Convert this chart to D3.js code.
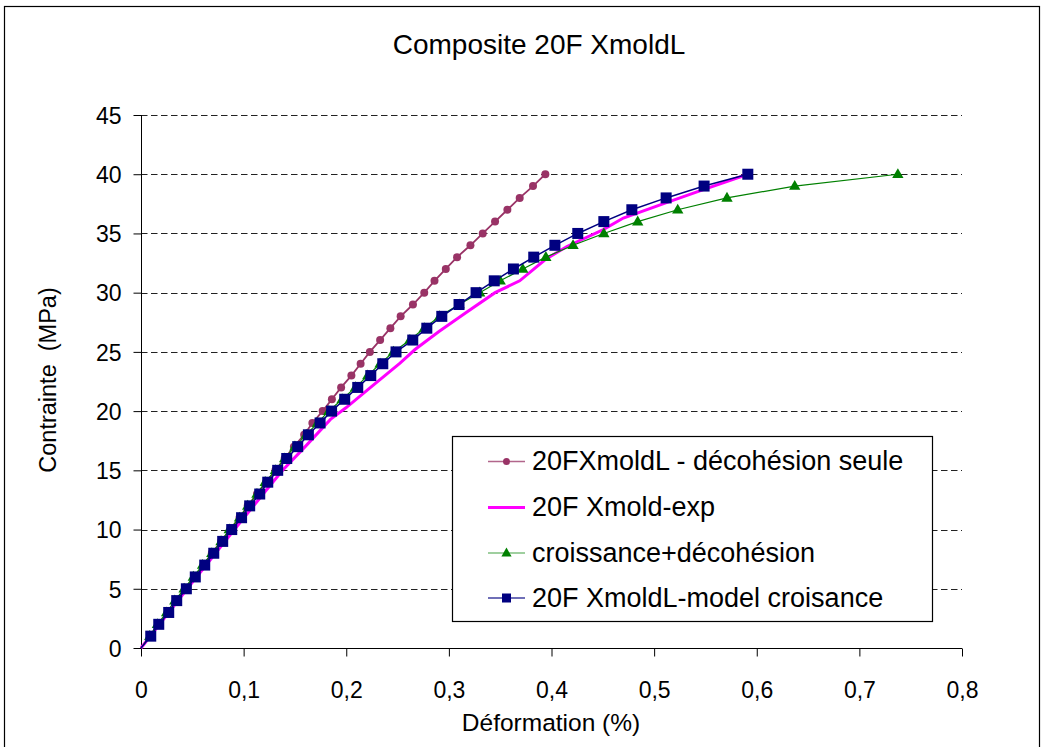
<!DOCTYPE html>
<html>
<head>
<meta charset="utf-8">
<script src="https://cdn.jsdelivr.net/npm/d3@7"></script>
<style>
  html, body { margin: 0; padding: 0; background: #fff; }
  svg { display: block; font-family: "Liberation Sans", Arial, sans-serif; }
</style>
</head>
<body>
<svg id="chart" width="1043" height="747"></svg>
<script>
// Stress levels (MPa) shared by the three model series
const stressLevels = [1,2,3,4,5,6,7,8,9,10,11,12,13,14,15,16,17,18,19,20,
                      21,22,23,24,25,26,27,28,29,30,31,32,33,34,35,36,37,38,39,40];

// 20FXmoldL - décohésion seule : strain (%)
const decohStrain = [0.009,0.017,0.026,0.034,0.043,0.052,0.061,0.069,0.078,0.087,
                     0.096,0.104,0.113,0.122,0.131,0.140,0.149,0.159,0.167,0.177,
                     0.186,0.195,0.205,0.214,0.223,0.233,0.243,0.253,0.265,0.276,
                     0.286,0.297,0.308,0.321,0.333,0.345,0.357,0.369,0.382,0.394];

// croissance+décohésion : strain (%)
const croissStrain = [0.0085,0.016,0.025,0.033,0.042,0.051,0.060,0.069,0.078,0.086,
                      0.096,0.104,0.113,0.121,0.131,0.140,0.150,0.161,0.172,0.183,
                      0.196,0.209,0.221,0.233,0.246,0.262,0.276,0.291,0.310,0.330,
                      0.350,0.372,0.3945,0.421,0.451,0.484,0.523,0.571,0.637,0.7375];

// 20F XmoldL-model croisance : strain (%)
const modelStrain = [0.0095,0.0173,0.027,0.0348,0.0442,0.0529,0.0621,0.0709,0.0796,0.0884,
                     0.098,0.1059,0.1157,0.1235,0.1332,0.142,0.1527,0.1631,0.1745,0.1857,
                     0.1985,0.2112,0.2239,0.2356,0.2485,0.2648,0.2785,0.2931,0.3099,0.3265,
                     0.3442,0.3629,0.3827,0.4033,0.4256,0.451,0.4783,0.5117,0.5487,0.5913];

// 20F Xmold-exp : experimental curve
const expStrain = [0,0.045,0.091,0.119,0.138,0.160,0.1846,0.200,0.2237,0.2524,0.267,0.290,
                   0.3165,0.345,0.369,0.394,0.415,0.450,0.470,0.512,0.548,0.5913];
const expStress = [0,5,10,13,15,17,19.3,20.3,22,24.05,25.2,26.7,
                   28.3,30,31,32.8,33.9,35.3,36.3,37.6,38.7,40];

// Axis ticks
const xTicks = [0,0.1,0.2,0.3,0.4,0.5,0.6,0.7,0.8];
const xTickLabels = ["0","0,1","0,2","0,3","0,4","0,5","0,6","0,7","0,8"];
const yTicks = [0,5,10,15,20,25,30,35,40,45];

const seriesNames = ["20FXmoldL - décohésion seule","20F Xmold-exp","croissance+décohésion","20F XmoldL-model croisance"];

const svg = d3.select("#chart");
const x = d3.scaleLinear().domain([0, 0.8]).range([141, 962]);
const y = d3.scaleLinear().domain([0, 45]).range([648, 115]);

// chart area frame
svg.append("rect").attr("x", 4.5).attr("y", 6.5).attr("width", 1035).attr("height", 780)
  .attr("fill", "#fff").attr("stroke", "#000").attr("stroke-width", 1.2);

// title
svg.append("text").attr("x", 539).attr("y", 54).attr("text-anchor", "middle")
  .attr("font-size", 28).text("Composite 20F XmoldL");

// horizontal dashed gridlines
svg.append("g").selectAll("line").data(yTicks.filter(d => d > 0)).join("line")
  .attr("x1", 141).attr("x2", 962)
  .attr("y1", d => Math.round(y(d)) + 0.5).attr("y2", d => Math.round(y(d)) + 0.5)
  .attr("stroke", "#222").attr("stroke-width", 1.2).attr("stroke-dasharray", "6.5,3.5");

// y axis
const yAxis = d3.axisLeft(y).tickValues(yTicks).tickSize(8).tickPadding(12).tickFormat(d => d);
const gy = svg.append("g").attr("transform", "translate(141.5,0)").call(yAxis);
gy.select(".domain").attr("stroke", "#000").attr("d", `M0,${y(0)}V${y(45)}`);
gy.selectAll(".tick line").attr("stroke", "#000");
gy.selectAll(".tick text").attr("font-size", 23).attr("x", -20).attr("dy", "0.36em")
  .attr("font-family", "Liberation Sans, Arial, sans-serif").attr("fill", "#000");

// x axis
const xAxis = d3.axisBottom(x).tickValues(xTicks).tickSize(8).tickPadding(12)
  .tickFormat((d, i) => xTickLabels[i]);
const gx = svg.append("g").attr("transform", "translate(0,648.5)").call(xAxis);
gx.select(".domain").attr("stroke", "#000").attr("d", `M${x(0)},0H${x(0.8)}`);
gx.selectAll(".tick line").attr("stroke", "#000");
gx.selectAll(".tick text").attr("font-size", 23).attr("y", 49).attr("dy", 0)
  .attr("font-family", "Liberation Sans, Arial, sans-serif").attr("fill", "#000");

// axis titles
svg.append("text").attr("x", 551).attr("y", 731).attr("text-anchor", "middle")
  .attr("font-size", 24.5).text("Déformation (%)");
svg.append("text").attr("transform", "translate(56,380) rotate(-90)").attr("text-anchor", "middle")
  .attr("font-size", 23.5).attr("xml:space", "preserve").text("Contrainte  (MPa)");

const line = d3.line().x(d => x(d[0])).y(d => y(d[1]));
const plot = svg.append("g");

// décohésion seule
const decoh = decohStrain.map((s, i) => [s, stressLevels[i]]);
plot.append("path").datum([[0, 0], ...decoh]).attr("d", line)
  .attr("fill", "none").attr("stroke", "#993366").attr("stroke-width", 1.8);
plot.append("g").selectAll("circle").data(decoh).join("circle")
  .attr("cx", d => x(d[0])).attr("cy", d => y(d[1])).attr("r", 4).attr("fill", "#993366");

// experimental
const expData = expStrain.map((s, i) => [s, expStress[i]]);
plot.append("path").datum(expData).attr("d", line)
  .attr("fill", "none").attr("stroke", "#ff00ff").attr("stroke-width", 3);

// croissance + décohésion
const croiss = croissStrain.map((s, i) => [s, stressLevels[i]]);
plot.append("path").datum([[0, 0], ...croiss]).attr("d", line)
  .attr("fill", "none").attr("stroke", "#008000").attr("stroke-width", 1.2);
const tri = d3.symbol().type(d3.symbolTriangle).size(56);
plot.append("g").selectAll("path").data(croiss).join("path")
  .attr("transform", d => `translate(${x(d[0])},${y(d[1]) + 0.5})`).attr("d", tri).attr("fill", "#008000");

// model croissance
const model = modelStrain.map((s, i) => [s, stressLevels[i]]);
plot.append("path").datum([[0, 0], ...model]).attr("d", line)
  .attr("fill", "none").attr("stroke", "#000080").attr("stroke-width", 1.5);
plot.append("g").selectAll("rect").data(model).join("rect")
  .attr("x", d => x(d[0]) - 5.5).attr("y", d => y(d[1]) - 5.5).attr("width", 11).attr("height", 11)
  .attr("fill", "#000080");

// legend
const lg = svg.append("g");
lg.append("rect").attr("x", 452.5).attr("y", 436.5).attr("width", 480).attr("height", 185)
  .attr("fill", "#fff").attr("stroke", "#000").attr("stroke-width", 1.2);
const rowsY = [461.5, 507.5, 553, 598];
const legendStyles = [
  {color: "#993366", w: 1.5, marker: "circle"},
  {color: "#ff00ff", w: 3, marker: null},
  {color: "#008000", w: 1.2, marker: "triangle"},
  {color: "#000080", w: 1.5, marker: "square"}
];
seriesNames.forEach((name, i) => {
  const st = legendStyles[i];
  const cy = rowsY[i];
  lg.append("line").attr("x1", 488).attr("x2", 525).attr("y1", cy).attr("y2", cy)
    .attr("stroke", st.color).attr("stroke-width", st.w).attr("opacity", st.marker ? 0.75 : 1);
  if (st.marker === "circle") lg.append("circle").attr("cx", 506.5).attr("cy", cy).attr("r", 3.5).attr("fill", st.color);
  if (st.marker === "triangle") lg.append("path").attr("transform", `translate(506.5,${cy + 0.5})`)
    .attr("d", d3.symbol().type(d3.symbolTriangle).size(45)()).attr("fill", st.color);
  if (st.marker === "square") lg.append("rect").attr("x", 502).attr("y", cy - 4.5).attr("width", 9).attr("height", 9).attr("fill", st.color);
  lg.append("text").attr("x", 532).attr("y", cy + 8.5).attr("font-size", 27).text(name);
});
</script>
</body>
</html>
